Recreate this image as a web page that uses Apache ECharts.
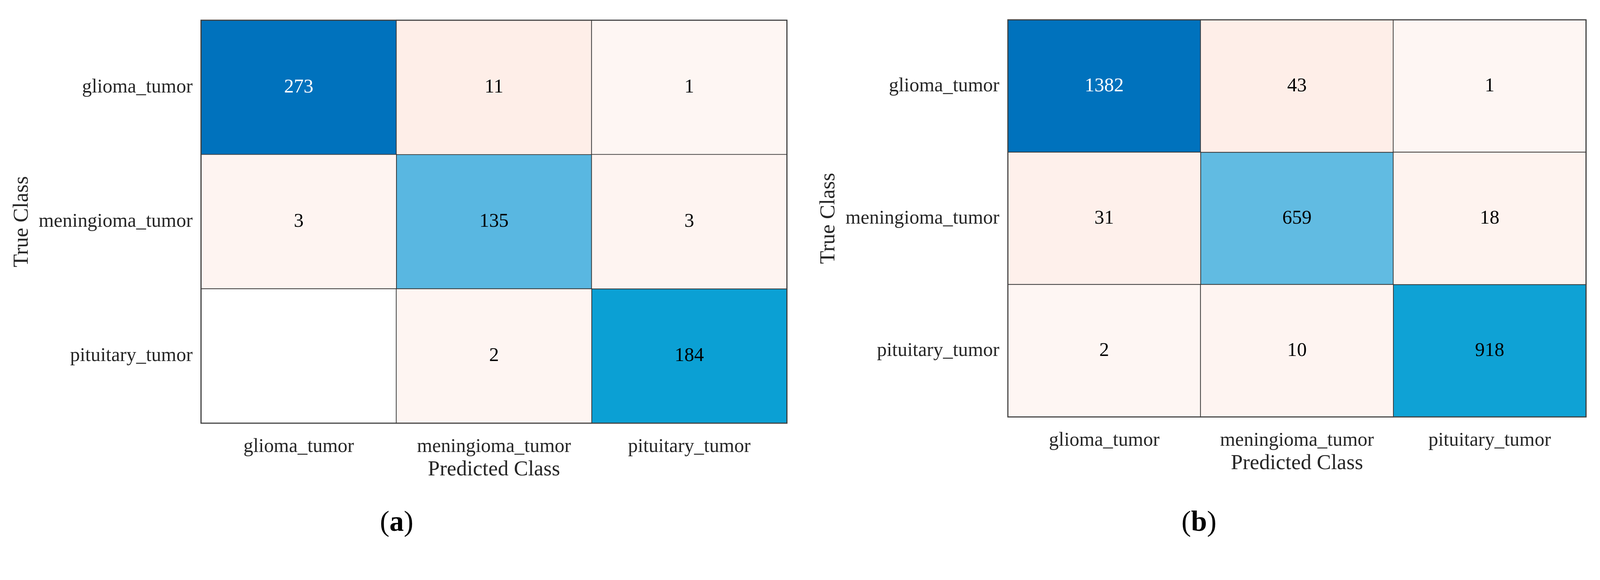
<!DOCTYPE html>
<html>
<head>
<meta charset="utf-8">
<script src="https://cdn.jsdelivr.net/npm/echarts@6/dist/echarts.min.js"></script>
<style>
html,body{margin:0;padding:0;background:#fff;overflow:hidden;}
#chart{width:100vw;height:100vh;}
</style>
</head>
<body>
<div id="chart"></div>
<script>
const categories = ['glioma_tumor', 'meningioma_tumor', 'pituitary_tumor'];
const matrixA = [
  [273, 11, 1],
  [3, 135, 3],
  [0, 2, 184]
];
const matrixB = [
  [1382, 43, 1],
  [31, 659, 18],
  [2, 10, 918]
];
const panelLabels = ['a', 'b'];
const xTitle = 'Predicted Class';
const yTitle = 'True Class';

// layout is designed for a 4345 x 1486 canvas and scaled to the viewport
const S = Math.min(window.innerWidth / 4345, window.innerHeight / 1486);
const px = v => v * S;

const FONT = '"Liberation Serif", "Times New Roman", serif';
const diagColors = ['#FFFFFF', '#EEF8FC', '#D5EEF8', '#B0DFF2', '#84CCEA', '#56B6E0', '#2AAADA', '#009DD2', '#008CCA', '#007FC4', '#0072BD'];
const offLight = [254, 246, 243];
const offDark = [254, 238, 232];

function offColors(mx) {
  // stop 0 -> white (empty cell), stops 1..mx -> light salmon ramp
  const cols = ['#ffffff'];
  for (let i = 1; i <= mx; i++) {
    const t = mx > 1 ? (i - 1) / (mx - 1) : 0;
    const c = offLight.map((a, k) => Math.round(a + (offDark[k] - a) * t));
    cols.push('rgb(' + c.join(',') + ')');
  }
  return cols;
}

function buildData(m, diag) {
  const maxDiag = Math.max(...m.map((r, i) => r[i]));
  const out = [];
  for (let i = 0; i < m.length; i++) {
    for (let j = 0; j < m[i].length; j++) {
      if ((i === j) !== diag) continue;
      const v = m[i][j];
      out.push({
        value: [j, i, v],
        label: { color: (diag && v / maxDiag > 0.8) ? '#ffffff' : '#000000' }
      });
    }
  }
  return out;
}
function offMax(m) {
  let mx = 1;
  m.forEach((r, i) => r.forEach((v, j) => { if (i !== j && v > mx) mx = v; }));
  return mx;
}

const grids = [
  { left: px(546), top: px(55), width: px(1591), height: px(1095) },
  { left: px(2737), top: px(54), width: px(1570), height: px(1079) }
];
const mats = [matrixA, matrixB];

const option = {
  backgroundColor: '#ffffff',
  animation: false,
  grid: grids.map(g => Object.assign({ show: true, z: 5, borderColor: '#404040', borderWidth: px(3), backgroundColor: 'transparent' }, g)),
  xAxis: grids.map((g, k) => ({
    type: 'category', gridIndex: k, data: categories, position: 'bottom',
    axisLine: { show: false }, axisTick: { show: false }, splitLine: { show: false },
    axisLabel: { interval: 0, hideOverlap: false, fontFamily: FONT, fontSize: px(53), color: '#262626', margin: px(38) },
    name: xTitle, nameLocation: 'middle', nameGap: px(98),
    nameTextStyle: { fontFamily: FONT, fontSize: px(58), color: '#262626' }
  })),
  yAxis: grids.map((g, k) => ({
    type: 'category', gridIndex: k, data: categories, inverse: true,
    axisLine: { show: false }, axisTick: { show: false }, splitLine: { show: false },
    axisLabel: { interval: 0, fontFamily: FONT, fontSize: px(53), color: '#262626', margin: px(23) },
    name: yTitle, nameLocation: 'middle', nameGap: px(457), nameRotate: 90,
    nameTextStyle: { fontFamily: FONT, fontSize: px(58), color: '#262626' }
  })),
  visualMap: [],
  series: [],
  graphic: []
};

mats.forEach((m, k) => {
  const maxDiag = Math.max(...m.map((r, i) => r[i]));
  const om = offMax(m);
  option.visualMap.push({
    type: 'continuous', show: false, seriesIndex: option.series.length, dimension: 2,
    min: 0, max: maxDiag, inRange: { color: diagColors }
  });
  option.series.push({
    type: 'heatmap', xAxisIndex: k, yAxisIndex: k, data: buildData(m, true),
    itemStyle: { borderColor: '#333333', borderWidth: px(2) },
    label: { show: true, fontFamily: FONT, fontSize: px(53), formatter: p => p.value[2] === 0 ? '' : String(p.value[2]) },
    emphasis: { disabled: true }
  });
  option.visualMap.push({
    type: 'continuous', show: false, seriesIndex: option.series.length, dimension: 2,
    min: 0, max: om, inRange: { color: offColors(om) }
  });
  option.series.push({
    type: 'heatmap', xAxisIndex: k, yAxisIndex: k, data: buildData(m, false),
    itemStyle: { borderColor: '#333333', borderWidth: px(2) },
    label: { show: true, fontFamily: FONT, fontSize: px(53), formatter: p => p.value[2] === 0 ? '' : String(p.value[2]) },
    emphasis: { disabled: true }
  });
});

const labelX = [1077, 3256];
panelLabels.forEach((t, k) => {
  option.graphic.push({
    type: 'text', x: px(labelX[k]), y: px(1422),
    style: {
      text: '{p|(}{b|' + t + '}{p|)}',
      align: 'center', verticalAlign: 'middle',
      rich: {
        p: { fontFamily: FONT, fontSize: px(78), color: '#000' },
        b: { fontFamily: FONT, fontSize: px(78), fontWeight: 'bold', color: '#000' }
      }
    }
  });
});

const chart = echarts.init(document.getElementById('chart'), null, { renderer: 'canvas' });
chart.setOption(option);
</script>
</body>
</html>
